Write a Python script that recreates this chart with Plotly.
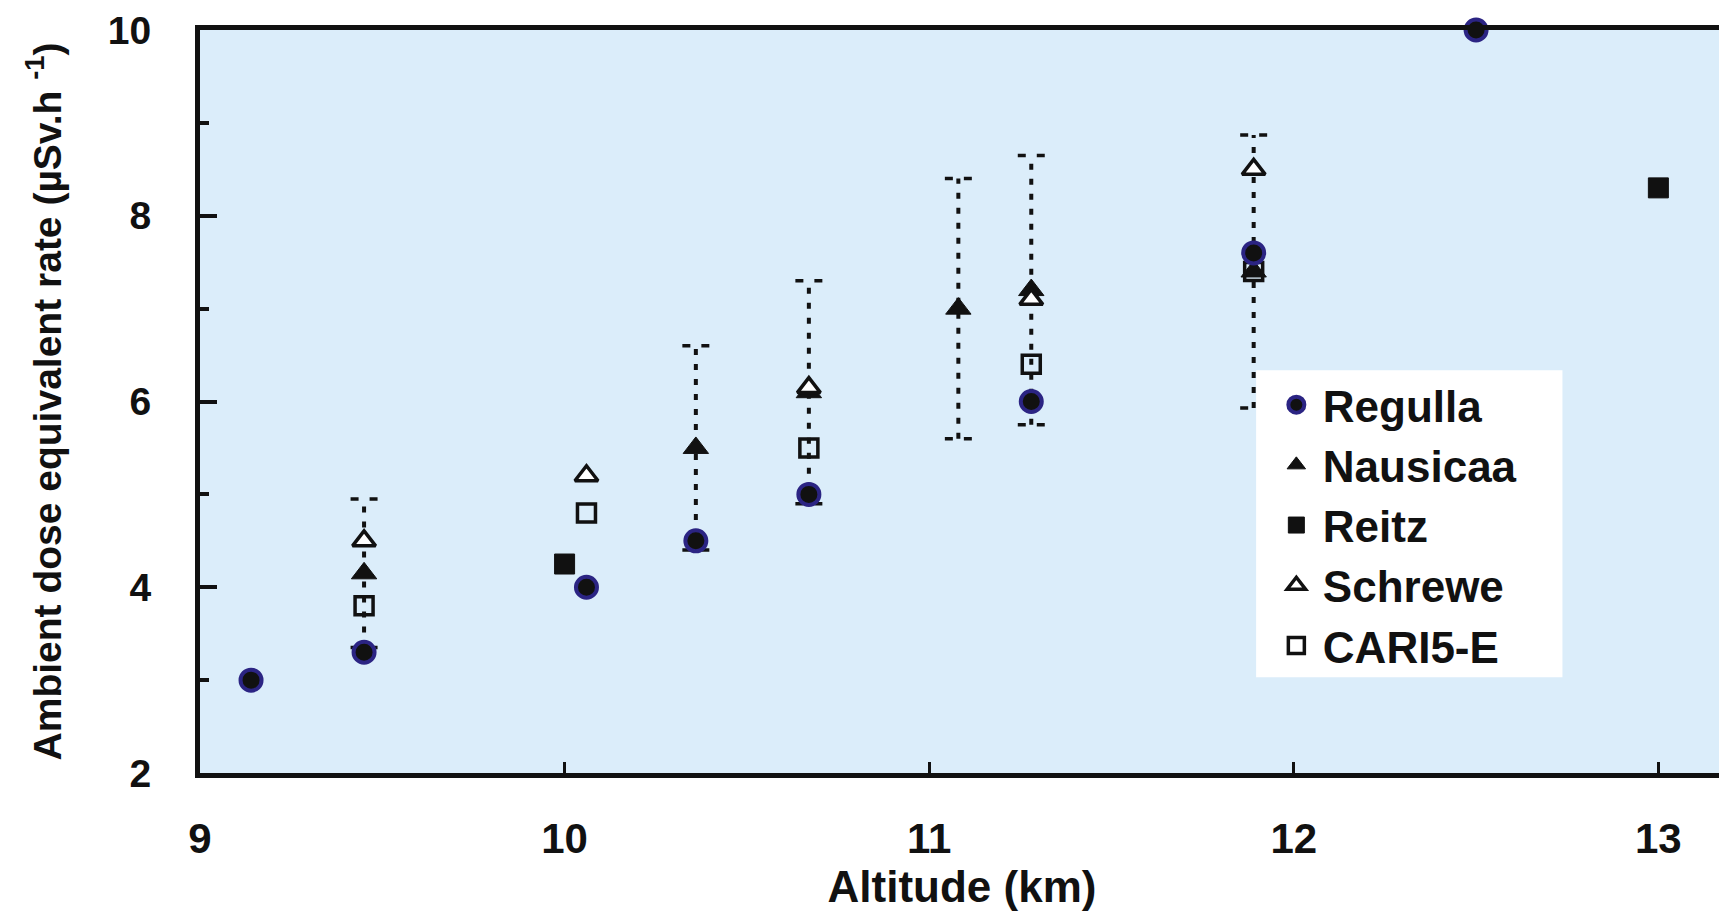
import plotly.graph_objects as go

# ---------------- data (altitude in km, dose rate in µSv/h) ----------------
regulla_x = [9.14, 9.45, 10.06, 10.36, 10.67, 11.28, 11.89, 12.50]
regulla_y = [3.0, 3.3, 4.0, 4.5, 5.0, 6.0, 7.6, 10.0]

nausicaa_x = [9.45, 10.36, 10.67, 11.08, 11.28, 11.89]
nausicaa_y = [4.15, 5.5, 6.1, 7.0, 7.2, 7.4]
nausicaa_err = [0.8, 1.1, 1.2, 1.4, 1.45, 1.47]

reitz_x = [10.0, 13.0]
reitz_y = [4.25, 8.3]

schrewe_x = [9.45, 10.06, 10.67, 11.28, 11.89]
schrewe_y = [4.5, 5.2, 6.15, 7.1, 8.5]

cari_x = [9.45, 10.06, 10.67, 11.28, 11.89]
cari_y = [3.8, 4.8, 5.5, 6.4, 7.4]

x_ticks = [9, 10, 11, 12, 13]
y_ticks = [2, 4, 6, 8, 10]

# ---------------- styles ----------------
INK = "#111111"
BG = "#dbedfa"
FONT = "Liberation Sans, Arial, sans-serif"
CAP_HALF = 0.037  # half width of the error-bar caps, km

fig = go.Figure()

# error bars of the Nausicaa measurements (dotted stems, dashed caps)
stem_x, stem_y, cap_x, cap_y = [], [], [], []
for x, y, e in zip(nausicaa_x, nausicaa_y, nausicaa_err):
    stem_x += [x, x, None]
    stem_y += [y - e, y + e, None]
    for yy in (y - e, y + e):
        cap_x += [x - CAP_HALF, x + CAP_HALF, None]
        cap_y += [yy, yy, None]

fig.add_trace(go.Scatter(x=stem_x, y=stem_y, mode="lines", showlegend=False,
                         hoverinfo="skip",
                         line=dict(color=INK, width=4, dash="6px,9px")))
fig.add_trace(go.Scatter(x=cap_x, y=cap_y, mode="lines", showlegend=False,
                         hoverinfo="skip",
                         line=dict(color=INK, width=3.5, dash="8px,11px")))

fig.add_trace(go.Scatter(
    x=reitz_x, y=reitz_y, mode="markers", name="Reitz", legendrank=3,
    legendgroup="c", cliponaxis=False,
    marker=dict(symbol="square", size=20, color=INK, line=dict(color=INK, width=1))))
fig.add_trace(go.Scatter(
    x=nausicaa_x, y=nausicaa_y, mode="markers", name="Nausicaa", legendrank=2,
    legendgroup="b", cliponaxis=False,
    marker=dict(symbol="triangle-up", size=22, color=INK, line=dict(color=INK, width=1))))
fig.add_trace(go.Scatter(
    x=schrewe_x, y=schrewe_y, mode="markers", name="Schrewe", legendrank=4,
    legendgroup="d", cliponaxis=False,
    marker=dict(symbol="triangle-up", size=20, color="white", line=dict(color=INK, width=3.5))))
fig.add_trace(go.Scatter(
    x=cari_x, y=cari_y, mode="markers", name="CARI5-E", legendrank=5,
    legendgroup="e", cliponaxis=False,
    marker=dict(symbol="square-open", size=18, color=INK, line=dict(color=INK, width=3.5))))
fig.add_trace(go.Scatter(
    x=regulla_x, y=regulla_y, mode="markers", name="Regulla", legendrank=1,
    legendgroup="a", cliponaxis=False,
    marker=dict(symbol="circle", size=21, color=INK, line=dict(color="#2b2483", width=4))))

# legend white box and thin right frame
fig.add_shape(type="rect", xref="paper", yref="paper", x0=0.693, x1=0.894,
              y0=0.129, y1=0.542, fillcolor="white", line=dict(width=0), layer="above")
fig.add_shape(type="line", xref="paper", yref="paper", x0=1, x1=1, y0=0, y1=1,
              line=dict(color=INK, width=2.5), layer="above")

# the page body adds an 8 px offset, so the figure is 8 px smaller than the window
fig.update_layout(
    width=1719, height=903,
    margin=dict(l=192, r=3, t=22, b=138),
    paper_bgcolor="white", plot_bgcolor=BG,
    font=dict(family=FONT, color=INK, weight="bold"),
    showlegend=True,
    legend=dict(x=0.702, y=0.543, xanchor="left", yanchor="top",
                bgcolor="rgba(0,0,0,0)", borderwidth=0,
                font=dict(family=FONT, size=44, color=INK, weight="bold"),
                tracegroupgap=0, itemsizing="trace", itemwidth=43),
)

fig.update_xaxes(
    range=[9, 13.18], tickmode="array", tickvals=x_ticks,
    ticktext=[str(v) for v in x_ticks], automargin=False,
    ticks="inside", ticklen=11, tickwidth=2.5, tickcolor=INK,
    showline=True, linewidth=5, linecolor=INK, mirror=True,
    showgrid=False, zeroline=False, ticklabelstandoff=25, ticklabeloverflow="allow",
    tickfont=dict(family=FONT, size=42, color=INK, weight="bold"),
    title=dict(text="Altitude (km)", standoff=16,
               font=dict(family=FONT, size=44, color=INK, weight="bold")),
)
fig.update_yaxes(
    range=[2, 10], tickmode="array", tickvals=y_ticks,
    ticktext=[str(v) for v in y_ticks], automargin="left",
    ticks="inside", ticklen=17, tickwidth=3.5, tickcolor=INK,
    minor=dict(ticks="inside", ticklen=9, tickwidth=3.5, tickcolor=INK, dtick=1),
    showline=True, linewidth=5, linecolor=INK, mirror=False,
    showgrid=False, zeroline=False, ticklabelstandoff=36, ticklabeloverflow="allow",
    tickfont=dict(family=FONT, size=39, color=INK, weight="bold"),
    title=dict(text="Ambient dose equivalent rate (µSv.h <sup>-1</sup>)", standoff=36,
               font=dict(family=FONT, size=39, color=INK, weight="bold")),
)

fig.write_html("out.html")
